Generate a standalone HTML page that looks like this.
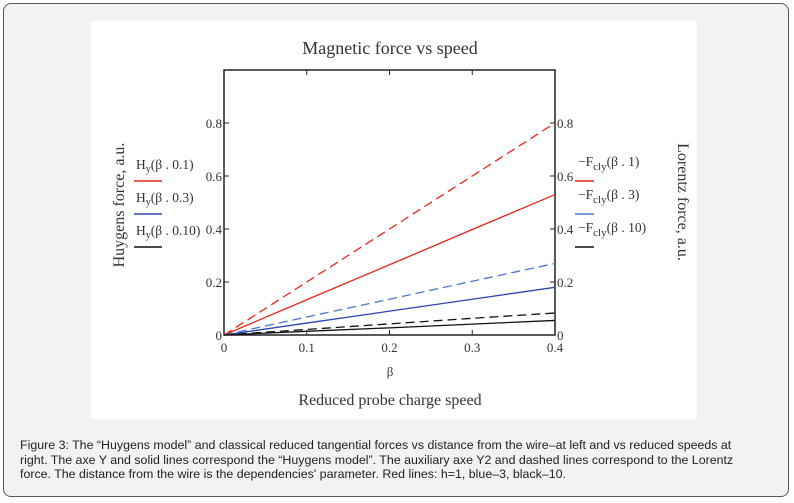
<!DOCTYPE html>
<html><head><meta charset="utf-8"><style>
body{margin:0;width:794px;height:503px;background:#fff;font-family:"Liberation Serif",serif;}
#frame{position:absolute;left:3px;top:3px;width:784px;height:492px;background:#f2f2f2;border:1px solid #555;border-radius:8px;}
#panel{position:absolute;left:91px;top:21px;width:606px;height:398px;background:#fff;}
#caption{position:absolute;left:20px;top:438px;width:740px;font:12.4px/14.5px "Liberation Sans",sans-serif;color:#222;}
svg{position:absolute;left:0;top:0;}
text{font-family:"Liberation Serif",serif;fill:#333;}
</style></head><body>
<div id="frame"></div>
<div id="panel"></div>
<svg id="chart" width="794" height="503"></svg>
<div id="caption">Figure 3: The “Huygens model” and classical reduced tangential forces vs distance from the wire–at left and vs reduced speeds at right. The axe Y and solid lines correspond the “Huygens model”. The auxiliary axe Y2 and dashed lines correspond to the Lorentz force. The distance from the wire is the dependencies' parameter. Red lines: h=1, blue–3, black–10.</div>
<script>
const betas=[0,0.1,0.2,0.3,0.4];
const huyRed=[0,0.133,0.265,0.398,0.53];
const huyBlue=[0,0.045,0.09,0.135,0.18];
const huyBlack=[0,0.014,0.027,0.041,0.055];
const lorRed=[0,0.2,0.4,0.6,0.8];
const lorBlue=[0,0.068,0.135,0.203,0.27];
const lorBlack=[0,0.021,0.042,0.063,0.083];
const xTicks=[0,0.1,0.2,0.3,0.4];
const yTicks=[0,0.2,0.4,0.6,0.8];
const X0=224,X1=555,Y0=335,YT=70;
const sx=v=>X0+(X1-X0)*v/0.4;
const sy=v=>Y0-v*265;
const svg=document.getElementById('chart');
const NS='http://www.w3.org/2000/svg';
function mk(t,a,txt){const e=document.createElementNS(NS,t);for(const k in a)e.setAttribute(k,a[k]);if(txt!=null)e.textContent=txt;svg.appendChild(e);return e;}
let e;
e=mk('rect',{x:X0,y:YT,width:X1-X0,height:Y0-YT,fill:'none',stroke:'#222','stroke-width':1.5});


xTicks.forEach(t=>{
 e=mk('line',{x1:sx(t),x2:sx(t),y1:Y0,y2:Y0-5,stroke:'#222'});
 
 
 mk('line',{x1:sx(t),x2:sx(t),y1:YT,y2:YT+5,stroke:'#222'});
 e=mk('text',{x:sx(t),y:Y0+17,'font-size':13,'text-anchor':'middle'},String(t));
 
 
});
yTicks.forEach(t=>{
 mk('line',{x1:X0,x2:X0+5,y1:sy(t),y2:sy(t),stroke:'#222'});
 mk('line',{x1:X1,x2:X1-5,y1:sy(t),y2:sy(t),stroke:'#222'});
 e=mk('text',{x:X0-2,y:sy(t)+5,'font-size':13,'text-anchor':'end'},String(t));
 
 
 e=mk('text',{x:X1+2,y:sy(t)+5,'font-size':13},String(t));
 
 
});
function line(vals,col,dash,name){
 const pts=betas.map((b,i)=>sx(b)+','+sy(vals[i])).join(' ');
 const el=mk('polyline',{points:pts,fill:'none',stroke:col,'stroke-width':1.3,'stroke-dasharray':dash?'9,5':'none'});
 
 
}
line(huyRed,'#e8251b',false,'huygens-h1');
line(huyBlue,'#2b45b5',false,'huygens-h3');
line(huyBlack,'#111',false,'huygens-h10');
line(lorRed,'#e8251b',true,'lorentz-h1');
line(lorBlue,'#4a78cc',true,'lorentz-h3');
line(lorBlack,'#111',true,'lorentz-h10');
e=mk('text',{x:390,y:54,'font-size':18,'text-anchor':'middle',fill:'#222'},'Magnetic force vs speed');


e=mk('text',{x:390,y:376,'font-size':13,'text-anchor':'middle'},'β');


e=mk('text',{x:390,y:405,'font-size':16,'text-anchor':'middle',fill:'#222'},'Reduced probe charge speed');


e=mk('text',{x:0,y:0,'font-size':16,'text-anchor':'middle',transform:'translate(124,205) rotate(-90)'},'Huygens force, a.u.');


e=mk('text',{x:0,y:0,'font-size':16,'text-anchor':'middle',transform:'translate(678,202) rotate(90)'},'Lorentz force, a.u.');


const legL=[['0.1','#e8251b',169],['0.3','#2b45b5',202],['0.10','#111',235]];
legL.forEach(([p,c,y])=>{
 e=mk('text',{x:136,y:y,'font-size':13.5},'');
 e.innerHTML='H<tspan dy="3" font-size="10">y</tspan><tspan dy="-3">(β . 0.'+p.slice(2)+')</tspan>';
 
 
 mk('line',{x1:134,x2:162,y1:y+12,y2:y+12,stroke:c,'stroke-width':1.5});
});
const legR=[['1','#e8251b',166],['3','#4a78cc',199],['10','#111',232]];
legR.forEach(([p,c,y])=>{
 e=mk('text',{x:578,y:y,'font-size':13.5},'');
 e.innerHTML='−F<tspan dy="4" font-size="11">cly</tspan><tspan dy="-4">(β . '+p+')</tspan>';
 
 
 mk('line',{x1:575,x2:594,y1:y+15,y2:y+15,stroke:c,'stroke-width':1.5});
});
</script>
</body></html>
